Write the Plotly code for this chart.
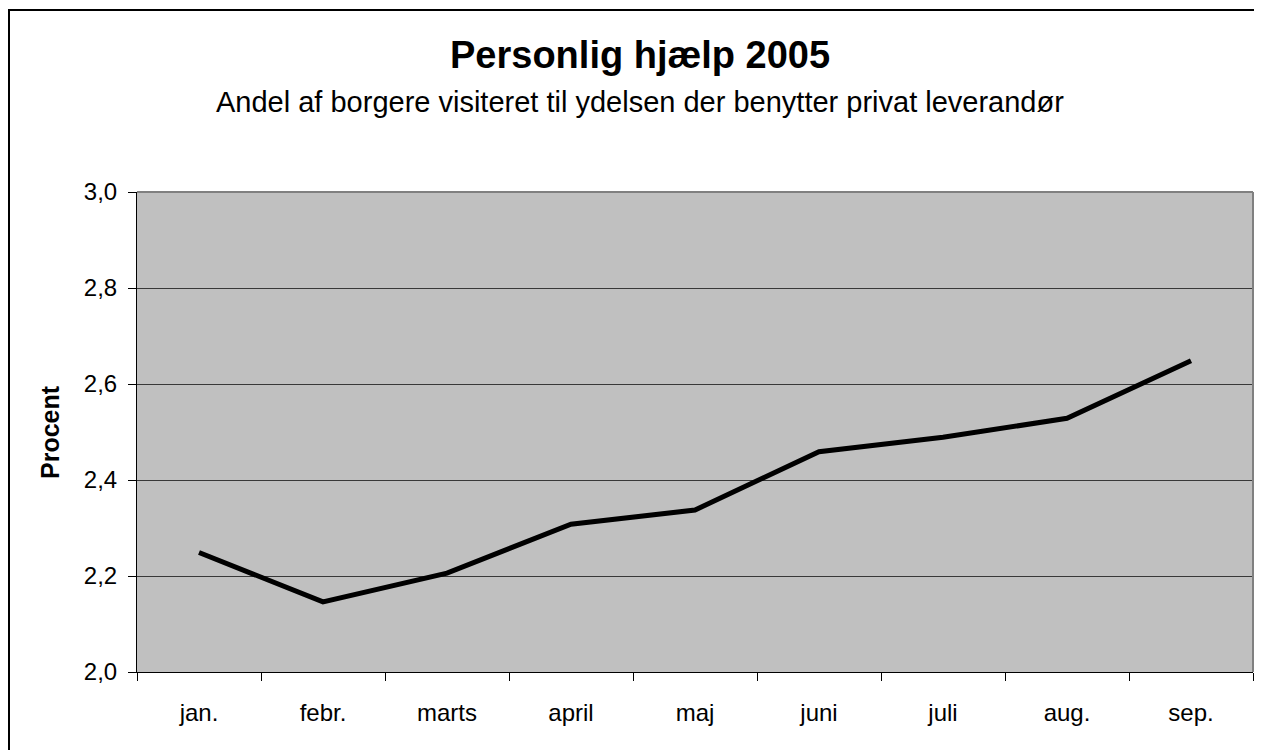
import plotly.graph_objects as go

months = ["jan.", "febr.", "marts", "april", "maj", "juni", "juli", "aug.", "sep."]
procent = [2.249, 2.146, 2.206, 2.308, 2.3375, 2.459, 2.489, 2.5285, 2.6485]
y_ticks = [2.0, 2.2, 2.4, 2.6, 2.8, 3.0]

# page has an 8px body margin, so the figure is drawn 8px smaller
OFF = 8
W, H = 1262 - OFF, 750 - OFF
L, R, T, B = 137 - OFF, 1253 - OFF, 192 - OFF, 672 - OFF

fig = go.Figure()
fig.add_trace(go.Scatter(x=months, y=procent, mode="lines",
                         line=dict(color="black", width=5), showlegend=False,
                         hoverinfo="x+y"))

def px(x):
    return (x - OFF - L) / (R - L)

def py(y):
    return (B - (y - OFF)) / (B - T)

fig.update_layout(
    width=W, height=H,
    margin=dict(l=L, r=W - R, t=T, b=H - B, pad=0),
    paper_bgcolor="white",
    plot_bgcolor="#C0C0C0",
    separators=",.",
    font=dict(family="Liberation Sans, Arial, sans-serif", color="black", size=24),
    xaxis=dict(type="category", range=[-0.5, len(months) - 0.5], tickson="boundaries",
               ticks="outside", ticklen=8, tickcolor="black", showline=True,
               linecolor="black", linewidth=1, mirror=False, showgrid=False,
               tickfont=dict(size=24), fixedrange=True, automargin=False,
               ticklabelstandoff=19),
    yaxis=dict(range=[2.0, 3.0], tickvals=y_ticks, tickformat=".1f", ticks="outside",
               ticklen=8, tickcolor="black", showline=True, linecolor="black",
               linewidth=1, showgrid=True, gridcolor="#383838", gridwidth=1,
               zeroline=False, tickfont=dict(size=24), fixedrange=True,
               automargin=False, ticklabelstandoff=6),
    annotations=[
        dict(text="<b>Personlig hjælp 2005</b>", xref="paper", yref="paper",
             x=px(640), y=py(55), xanchor="center", yanchor="middle",
             showarrow=False, font=dict(size=38)),
        dict(text="Andel af borgere visiteret til ydelsen der benytter privat leverandør",
             xref="paper", yref="paper", x=px(640), y=py(102), xanchor="center",
             yanchor="middle", showarrow=False, font=dict(size=29)),
        dict(text="<b>Procent</b>", xref="paper", yref="paper", x=px(50), y=py(432),
             xanchor="center", yanchor="middle", textangle=-90, showarrow=False,
             font=dict(size=25)),
    ],
    shapes=[
        dict(type="line", xref="paper", yref="paper", x0=0, x1=1, y0=1, y1=1,
             line=dict(color="#808080", width=2)),
        dict(type="line", xref="paper", yref="paper", x0=1, x1=1, y0=0, y1=1,
             line=dict(color="#808080", width=2)),
        dict(type="rect", xref="paper", yref="paper", x0=px(9), x1=px(1290),
             y0=py(780), y1=py(10), line=dict(color="black", width=2),
             fillcolor="rgba(0,0,0,0)", layer="above"),
    ],
)

fig.write_html("out.html")
